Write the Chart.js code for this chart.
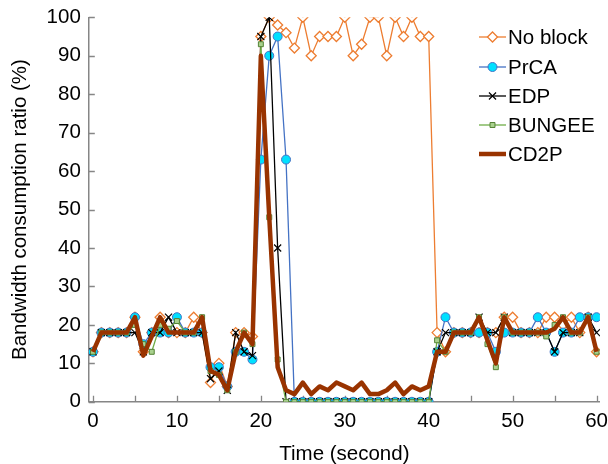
<!DOCTYPE html>
<html>
<head>
<meta charset="utf-8">
<script src="https://cdn.jsdelivr.net/npm/chart.js@4.4.1/dist/chart.umd.min.js"></script>
<style>
  html, body { margin: 0; padding: 0; background: #fff; }
  #marco { width: 608px; height: 464px; overflow: hidden; position: relative; }
  #wrap { width: 615px; height: 470px; position: absolute; left: 0; top: -3px; }
</style>
</head>
<body>
<div id="marco"><div id="wrap"><canvas id="grafico"></canvas></div></div>
<script>
// Tiempo (segundos)
const tiempos = [];
for (let t = 0; t <= 60; t++) tiempos.push(t);

const noBlock = [13, 18, 18, 18, 18, 22, 13, 18, 22, 18, 18, 18, 22, 18, 5, 10, 4, 18, 18, 17,
  95, 100, 98, 96, 92, 100, 90, 95, 95, 95, 100, 90, 93, 100, 100, 90, 100, 95, 100, 95, 95,
  18, 13, 18, 18, 18, 18, 18, 18, 22, 22, 18, 18, 18, 22, 22, 20, 22, 18, 22, 13];
const prca = [13, 18, 18, 18, 18, 22, 15, 18, 18, 18, 22, 18, 18, 18, 9, 9, 4, 13, 13, 11,
  63, 90, 95, 63, 0, 0, 0, 0, 0, 0, 0, 0, 0, 0, 0, 0, 0, 0, 0, 0, 0,
  13, 22, 18, 18, 18, 18, 18, 13, 18, 18, 18, 18, 22, 18, 13, 18, 18, 22, 22, 22];
const edp = [13, 18, 18, 18, 18, 18, 13, 18, 18, 22, 18, 18, 18, 18, 6, 8, 3, 18, 13, 12,
  95, 100, 40, 0, 0, 0, 0, 0, 0, 0, 0, 0, 0, 0, 0, 0, 0, 0, 0, 0, 0,
  13, 18, 18, 18, 18, 22, 18, 18, 22, 18, 18, 18, 18, 18, 13, 18, 18, 18, 22, 18];
const bungee = [13, 18, 18, 18, 18, 20, 15, 13, 20, 19, 21, 18, 18, 22, 8, 7, 3, 13, 18, 15,
  93, 48, 11, 0, 0, 0, 0, 0, 0, 0, 0, 0, 0, 0, 0, 0, 0, 0, 0, 0, 0,
  16, 13, 18, 18, 18, 22, 15, 9, 22, 18, 18, 18, 18, 17, 20, 22, 18, 18, 22, 13];
const cd2p = [13, 18, 18, 18, 18, 22, 12, 17, 22, 18, 18, 18, 18, 22, 8, 7, 3, 13, 18, 15,
  90, 48, 9, 3, 2, 5, 2, 4, 3, 5, 4, 3, 5, 2, 2, 3, 5, 2, 4, 3, 4,
  13, 13, 18, 18, 18, 22, 16, 10, 22, 18, 18, 18, 18, 18, 19, 22, 18, 18, 22, 13];

const ticksX = [0, 10, 20, 30, 40, 50, 60];
const ticksY = [0, 10, 20, 30, 40, 50, 60, 70, 80, 90, 100];

const fuente = 'Arial, "Liberation Sans", sans-serif';
const tamFuente = 20.5;
const colorEje = '#868686';

function puntos(valores) {
  return tiempos.map((t, i) => ({ x: t, y: valores[i] }));
}

// Marcas de los ejes hacia dentro
const marcasPlugin = {
  id: 'marcas',
  beforeDatasetsDraw(chart) {
    const { ctx, scales: { x, y } } = chart;
    ctx.save();
    ctx.strokeStyle = colorEje;
    ctx.lineWidth = 1.3;
    ctx.beginPath();
    for (let v = 0; v <= 60; v += 5) {
      const px = Math.round(x.getPixelForValue(v)) + 0.5;
      ctx.moveTo(px, y.bottom);
      ctx.lineTo(px, y.bottom - 6);
    }
    ticksY.forEach(v => {
      const py = Math.round(y.getPixelForValue(v)) + 0.5;
      ctx.moveTo(x.left, py);
      ctx.lineTo(x.left + 6, py);
    });
    ctx.stroke();
    ctx.restore();
  }
};

// Leyenda dentro del área del gráfico (coordenadas del lienzo)
const leyendaPlugin = {
  id: 'leyenda',
  afterDraw(chart) {
    const ctx = chart.ctx;
    const filas = [40, 70, 99, 128, 157];
    ctx.save();
    chart.data.datasets.forEach((ds, i) => {
      const y = filas[i];
      ctx.strokeStyle = ds.borderColor;
      ctx.lineWidth = ds.borderWidth;
      ctx.beginPath();
      ctx.moveTo(479, y);
      ctx.lineTo(506, y);
      ctx.stroke();
      if (ds.pointStyle !== false && ds.pointRadius > 0) {
        ctx.fillStyle = ds.pointBackgroundColor;
        ctx.strokeStyle = ds.pointBorderColor;
        ctx.lineWidth = ds.pointBorderWidth;
        Chart.helpers.drawPoint(ctx, {
          pointStyle: ds.pointStyle,
          radius: ds.pointRadius,
          rotation: 0,
          borderWidth: ds.pointBorderWidth
        }, 492.5, y);
      }
      ctx.fillStyle = '#000';
      ctx.font = tamFuente + 'px ' + fuente;
      ctx.textBaseline = 'middle';
      ctx.fillText(ds.label, 508, y + 1);
    });
    ctx.restore();
  }
};

new Chart(document.getElementById('grafico'), {
  type: 'line',
  data: {
    datasets: [
      {
        label: 'No block',
        data: puntos(noBlock),
        borderColor: '#ED7D31',
        borderWidth: 1.3,
        pointStyle: 'rectRot',
        pointRadius: 5,
        pointBackgroundColor: '#ffffff',
        pointBorderColor: '#ED7D31',
        pointBorderWidth: 1.3,
        order: 5
      },
      {
        label: 'PrCA',
        data: puntos(prca),
        borderColor: '#4472C4',
        borderWidth: 1.3,
        pointStyle: 'circle',
        pointRadius: 4.5,
        pointBackgroundColor: '#00E0FF',
        pointBorderColor: '#4472C4',
        pointBorderWidth: 1,
        order: 4
      },
      {
        label: 'EDP',
        data: puntos(edp),
        borderColor: '#000000',
        borderWidth: 1.3,
        pointStyle: 'crossRot',
        pointRadius: 5,
        pointBackgroundColor: '#000000',
        pointBorderColor: '#000000',
        pointBorderWidth: 1.2,
        order: 3
      },
      {
        label: 'BUNGEE',
        data: puntos(bungee),
        borderColor: '#70AD47',
        borderWidth: 1.3,
        pointStyle: 'rect',
        pointRadius: 3.5,
        pointBackgroundColor: '#A9D18E',
        pointBorderColor: '#548235',
        pointBorderWidth: 1,
        order: 2
      },
      {
        label: 'CD2P',
        data: puntos(cd2p),
        borderColor: '#993300',
        borderWidth: 4.5,
        pointStyle: false,
        pointRadius: 0,
        borderJoinStyle: 'round',
        order: 1
      }
    ]
  },
  options: {
    responsive: true,
    maintainAspectRatio: false,
    animation: false,
    layout: { padding: { left: 8, right: 0, top: 0, bottom: 0 } },
    plugins: {
      legend: { display: false },
      tooltip: { enabled: false }
    },
    scales: {
      x: {
        type: 'linear',
        min: -0.5,
        max: 60.4,
        afterBuildTicks: (eje) => { eje.ticks = ticksX.map(v => ({ value: v })); },
        grid: { display: false, drawTicks: false },
        border: { display: true, color: colorEje, width: 1.5 },
        ticks: { color: '#000', font: { family: fuente, size: tamFuente }, padding: 7, maxRotation: 0 },
        title: {
          display: true,
          text: 'Time (second)',
          color: '#000',
          font: { family: fuente, size: tamFuente },
          padding: { top: 2, bottom: 0 }
        }
      },
      y: {
        min: 0,
        max: 100,
        afterBuildTicks: (eje) => { eje.ticks = ticksY.map(v => ({ value: v })); },
        grid: { display: false, drawTicks: false },
        border: { display: true, color: colorEje, width: 1.5 },
        ticks: { color: '#000', font: { family: fuente, size: tamFuente }, padding: 8 },
        title: {
          display: true,
          text: 'Bandwidth consumption ratio (%)',
          color: '#000',
          font: { family: fuente, size: tamFuente },
          padding: { top: 0, bottom: 6 }
        }
      }
    }
  },
  plugins: [marcasPlugin, leyendaPlugin]
});
</script>
</body>
</html>
